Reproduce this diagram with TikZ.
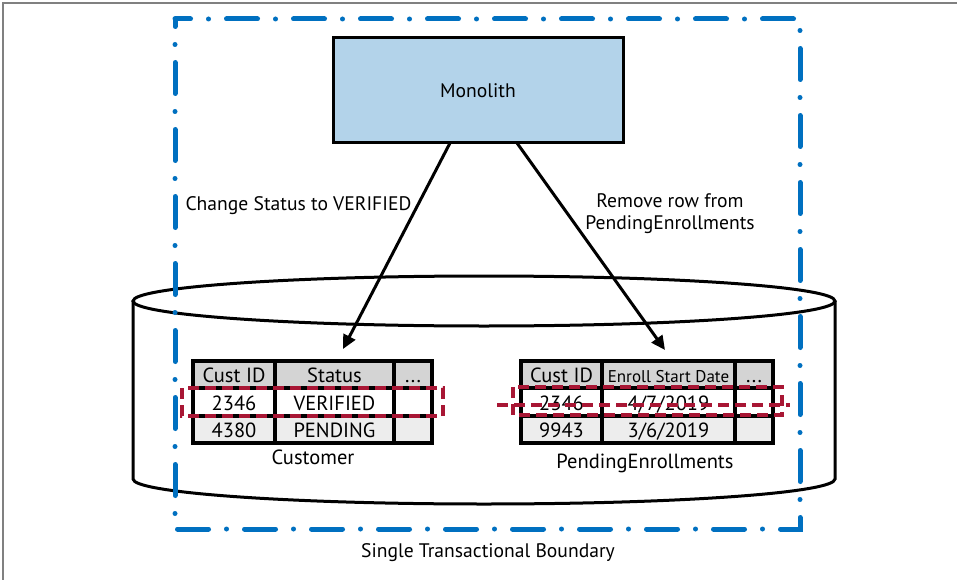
\documentclass[tikz,border=0pt]{standalone}
\usepackage{fontspec}
\setmainfont{PT Sans}
\usetikzlibrary{arrows.meta}
\definecolor{monoblue}{RGB}{179,211,234}
\definecolor{bndblue}{RGB}{0,112,192}
\definecolor{rowred}{RGB}{168,22,52}
\definecolor{headgray}{RGB}{212,212,212}
\definecolor{rowgray}{RGB}{237,237,237}
\newcommand{\celldots}{...}

\begin{document}
\begin{tikzpicture}[x=1pt, y=-1pt, font=\fontsize{19.6}{22}\selectfont,
  cell/.style={draw=black, line width=3.2pt},
  celltext/.style={text height=13pt, text depth=4pt, inner sep=0pt, font=\fontsize{20.5}{22}\selectfont},
  arr/.style={line width=3pt, -{Triangle[length=14pt, width=13pt]}},
  rowmark/.style={draw=rowred, line width=3.2pt, dash pattern=on 11pt off 6pt}]
  \useasboundingbox (0,0) rectangle (957,580);
  \draw[gray, line width=1.5pt] (3,580) -- (3,3) -- (957,3);
  % database
  \draw[line width=3pt, fill=white] (133,301) -- (133,479)
    arc[start angle=180, end angle=360, x radius=351pt, y radius=25pt] -- (835,301);
  \draw[line width=3pt, fill=white] (484,301) ellipse [x radius=351pt, y radius=25pt];
  % monolith
  \node[draw, line width=3pt, fill=monoblue, minimum width=290pt, minimum height=105pt] (mono) at (478,90.5) {Monolith};
  \coordinate (monoL) at (450,143);
  \coordinate (monoR) at (517,143);
  \coordinate (custtip) at (343,349);
  \coordinate (pendtip) at (665,350);
  \draw[arr] (monoL) -- (custtip);
  \draw[arr] (monoR) -- (pendtip);
  \node[anchor=west] (lblstatus) at (182,206) {Change Status to VERIFIED};
  \node[align=center] (lblremove) at (670,214) {Remove row from\\PendingEnrollments};
  % customer table
  \foreach \xa/\xb/\hd/\ra/\rb [count=\i] in {193/275/Cust ID/2346/4380,
      275/394/Status/VERIFIED/PENDING, 394/432/\celldots/{}/{}}
    {\fill[headgray] (\xa,361) rectangle (\xb,388);
     \fill[rowgray] (\xa,416) rectangle (\xb,443);
     \node[celltext] (custh\i) at ({(\xa+\xb)/2},378) {\hd};
     \node[celltext] (custa\i) at ({(\xa+\xb)/2},405.5) {\ra};
     \node[celltext] (custb\i) at ({(\xa+\xb)/2},433) {\rb};}
  \draw[cell] (193,361) rectangle (432,443) (193,388) -- (432,388) (193,416) -- (432,416)
    (275,361) -- (275,443) (394,361) -- (394,443);
  \node (custname) at (313,457) {\fontsize{20.5}{22}\selectfont Customer};
  % pending table
  \foreach \xa/\xb/\hd [count=\i] in {521/602/Cust ID,
      602/735/{\fontsize{17}{18}\selectfont Enroll Start Date}, 735/773/\celldots}
    {\fill[headgray] (\xa,361) rectangle (\xb,388);
     \fill[rowgray] (\xa,416) rectangle (\xb,443);
     \node[celltext] (pendh\i) at ({(\xa+\xb)/2},378) {\hd};}
  \node[celltext] (penda1) at (561.5,405.5) {2346};
  \node[celltext] (pendb1) at (561.5,433) {9943};
  \node[celltext] (penda2) at (668.5,405.5) {4/7/2019};
  \node[celltext] (pendb2) at (668.5,433) {3/6/2019};
  \draw[cell] (521,361) rectangle (773,443) (521,388) -- (773,388) (521,416) -- (773,416)
    (602,361) -- (602,443) (735,361) -- (735,443);
  \node (pendname) at (645,463) {\fontsize{20.5}{22}\selectfont PendingEnrollments};
  % marked rows
  \draw[rowmark] (182,388) rectangle (443,416);
  \draw[rowmark] (513,387) rectangle (782,415);
  \draw[rowmark] (497,405) -- (790,405);
  % boundary
  \draw[bndblue, line width=5pt, line cap=round, dash pattern=on 31pt off 18pt on 0pt off 18pt, dash phase=15.5pt]
    (175,19) -- (800,19) -- (800,529) -- (175,529) -- cycle;
  \node (bndname) at (488,553) {Single Transactional Boundary};
\end{tikzpicture}
\end{document}
